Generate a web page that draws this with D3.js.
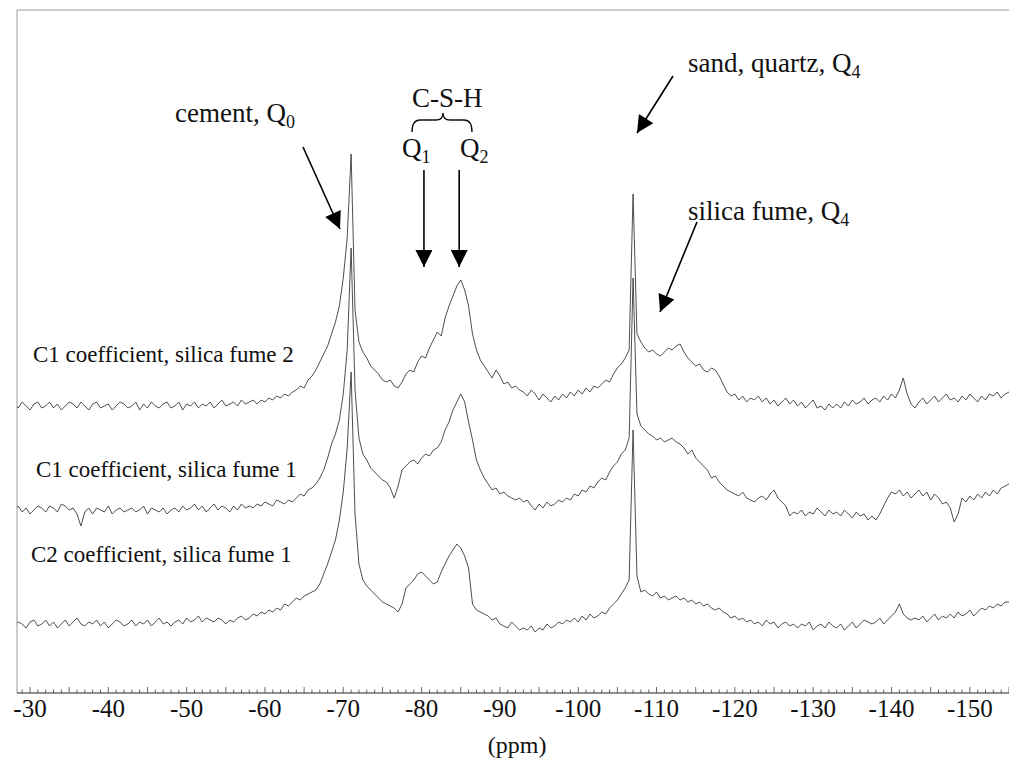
<!DOCTYPE html>
<html>
<head>
<meta charset="utf-8">
<script src="https://cdn.jsdelivr.net/npm/d3@7"></script>
<style>
  body { margin: 0; background: #fff; }
  svg { display: block; font-family: "Liberation Serif", "DejaVu Serif", serif; }
</style>
</head>
<body>
<div id="chart"></div>
<script>
// 29Si NMR spectra, sampled every 0.5 ppm from -28 to -155 ppm
const ppmStart = -28, ppmStep = -0.5, nPoints = 255;

const seriesNames = [
    'C1 coefficient, silica fume 2',
    'C1 coefficient, silica fume 1',
    'C2 coefficient, silica fume 1'
];

// vertical stacking offset of each trace (intensity units)
const offsets = [143, 91, 34];

const c1sf2 = [
    1, -1, 2, 0, -2, 1, 2, -1, 0, 2,
    -1, 1, -2, 0, 2, 1, -1, 2, 0, -2,
    1, 2, -1, 0, 1, -2, 0, 2, 1, -1,
    0, 2, -2, 1, -1, 2, 0, -1, 1, 2,
    -1, 0, 2, -2, 1, 0, 2, -1, 1, 0,
    2, -1, 1, 3, 0, 1, 2, 0, 3, 1,
    2, 3, 1, 3, 2, 4, 3, 5, 4, 6,
    5, 7, 8, 10, 9, 13, 15, 18, 22, 26,
    30, 36, 42, 50, 64, 84, 126, 48, 32, 27,
    24, 20, 18, 16, 13, 12, 13, 10, 9, 12,
    16, 18, 17, 22, 25, 24, 29, 33, 37, 35,
    44, 50, 55, 60, 63, 58, 50, 36, 28, 23,
    20, 17, 14, 18, 15, 11, 12, 9, 10, 8,
    7, 5, 8, 6, 3, 6, 4, 2, 5, 3,
    6, 4, 7, 5, 8, 6, 9, 7, 10, 9,
    11, 13, 12, 16, 19, 21, 24, 28, 106, 36,
    32, 29, 27, 28, 26, 25, 27, 29, 28, 30,
    31, 27, 24, 22, 20, 21, 18, 17, 19, 18,
    15, 11, 7, 5, 6, 3, 5, 2, 4, 3,
    5, 2, 4, 1, 3, 0, 2, 4, 1, 3,
    0, 2, -1, 1, 3, -1, 0, -2, 1, -1,
    1, -1, 2, 0, 3, 1, 2, 4, 1, 3,
    4, 2, 5, 3, 6, 4, 8, 14, 6, 1,
    -1, 2, 4, 1, 3, 5, 2, 4, 6, 3,
    4, 2, 5, 3, 6, 4, 2, 5, 3, 6,
    5, 7, 4, 6, 7
];

const c1sf1 = [
    0, 2, -1, 1, -2, 0, 2, 1, -1, 2,
    1, -1, 3, 2, 0, 1, -2, -8, -1, 1,
    -2, 1, 0, -1, 2, -2, 0, 1, -1, 0,
    1, -1, 0, 2, -2, 1, 0, -1, 1, -2,
    0, 1, -1, 2, 0, 1, 3, 0, 2, -1,
    1, 3, 0, 2, 1, -1, 2, 0, 3, 1,
    2, 1, 3, 2, 4, 3, 2, 5, 4, 3,
    5, 4, 6, 8, 7, 10, 11, 13, 16, 20,
    26, 33, 38, 45, 58, 80, 131, 60, 36, 28,
    25, 21, 19, 17, 15, 14, 11, 6, 12, 20,
    22, 24, 25, 23, 26, 28, 27, 30, 31, 34,
    40, 44, 50, 54, 58, 54, 44, 35, 25, 20,
    16, 13, 10, 11, 8, 9, 7, 6, 5, 6,
    4, 5, 2, 0, 3, 1, 4, 2, 3, 5,
    4, 6, 5, 8, 7, 10, 9, 12, 11, 14,
    16, 15, 19, 22, 24, 28, 30, 36, 116, 48,
    42, 40, 38, 37, 35, 36, 34, 35, 36, 34,
    33, 31, 28, 30, 26, 24, 22, 20, 16, 17,
    14, 12, 10, 9, 8, 7, 9, 6, 5, 4,
    6, 7, 5, 8, 10, 6, 4, 2, -3, -1,
    -2, 0, -3, -1, -2, 1, -1, -3, 0, -2,
    -1, -3, 0, -2, -4, -1, -3, -2, -5, -3,
    -5, -2, 2, 6, 9, 8, 10, 7, 9, 6,
    8, 10, 7, 9, 5, 8, 6, 3, 4, 1,
    -6, -2, 6, 4, 7, 5, 8, 6, 9, 7,
    10, 8, 11, 12, 13
];

const c2sf1 = [
    -1, 1, 0, -2, 1, 2, -1, 0, 2, -1,
    1, -2, 0, 2, -1, 1, 3, 0, -1, 1,
    0, 2, -1, 1, -2, 0, 2, 1, -1, 0,
    2, -1, 1, 0, 2, -1, 1, 3, 0, 1,
    -1, 1, 2, 0, 3, 1, 2, 4, 1, 3,
    2, 1, 3, 2, 0, 2, 1, 3, 4, 2,
    3, 5, 4, 6, 5, 7, 6, 8, 7, 10,
    9, 11, 13, 12, 14, 15, 16, 17, 20, 25,
    30, 36, 42, 52, 66, 88, 126, 55, 30, 22,
    19, 17, 15, 13, 11, 10, 9, 8, 6, 10,
    18, 20, 22, 25, 26, 24, 22, 20, 21, 26,
    30, 34, 37, 40, 38, 34, 28, 10, 7, 6,
    5, 4, 2, 3, 0, -1, -2, 1, -1, -3,
    -2, -3, -1, -4, -2, -3, 0, -2, -1, 1,
    0, 2, 1, 3, 1, 4, 2, 5, 3, 4,
    6, 5, 8, 10, 12, 15, 18, 22, 97, 24,
    16, 17, 15, 14, 16, 13, 14, 12, 13, 14,
    12, 13, 11, 12, 10, 11, 9, 10, 8, 7,
    8, 6, 5, 3, 4, 2, 3, 1, 2, 0,
    1, -1, 2, 0, 1, -2, 0, 1, -1, 0,
    -2, 0, -1, 1, -3, -1, 0, -2, 1, -1,
    -2, 0, -3, -1, 1, -2, 0, 2, 1, 0,
    1, 3, 0, 2, 4, 6, 10, 5, 3, 2,
    3, 2, 4, 1, 3, 5, 2, 4, 3, 5,
    3, 6, 4, 5, 7, 4, 6, 8, 7, 9,
    8, 10, 9, 11, 11
];

const tickLabels = [-30, -40, -50, -60, -70, -80, -90, -100, -110, -120, -130, -140, -150];

const series = [c1sf2, c1sf1, c2sf1];
const ppm = d3.range(nPoints).map(i => ppmStart + i * ppmStep);

const width = 1009, height = 760;
const axisY = 693, frameTop = 10, frameLeft = 17;

const svg = d3.select('#chart').append('svg')
    .attr('width', width)
    .attr('height', height);

const x = d3.scaleLinear()
    .domain([-28.34, -155])
    .range([frameLeft, width]);

const y = d3.scaleLinear()
    .domain([0, 341])
    .range([axisY - 1, axisY - 683]);

// frame (left and top)
svg.append('path')
    .attr('d', `M${frameLeft},${axisY} V${frameTop} H${width}`)
    .attr('fill', 'none')
    .attr('stroke', '#9a9a9a')
    .attr('stroke-width', 1);

svg.append('clipPath').attr('id', 'plotClip')
    .append('rect')
    .attr('x', frameLeft).attr('y', frameTop)
    .attr('width', width - frameLeft).attr('height', axisY - frameTop);

const line = d3.line()
    .x((d, i) => x(ppm[i]))
    .y(d => y(d));

svg.append('g')
    .attr('clip-path', 'url(#plotClip)')
    .selectAll('path.trace')
    .data(series)
    .join('path')
    .attr('class', 'trace')
    .attr('d', (s, k) => line(s.map(v => v + offsets[k])))
    .attr('fill', 'none')
    .attr('stroke', '#3a3a3a')
    .attr('stroke-width', 0.9)
    .attr('stroke-linejoin', 'round');

// trace labels
const labelPos = [[33, 362], [36, 477], [31, 562]];
svg.selectAll('text.series')
    .data(seriesNames)
    .join('text')
    .attr('class', 'series')
    .attr('x', (d, i) => labelPos[i][0])
    .attr('y', (d, i) => labelPos[i][1])
    .attr('font-size', 23)
    .attr('fill', '#111')
    .text(d => d);

// x axis, ticks pointing up
const axis = svg.append('g').attr('transform', `translate(0,${axisY})`);
axis.append('line')
    .attr('x1', frameLeft).attr('x2', width)
    .attr('stroke', '#222').attr('stroke-width', 1);

const minor = d3.range(-29, -155.5, -1);
axis.selectAll('line.minor')
    .data(minor)
    .join('line')
    .attr('class', 'minor')
    .attr('x1', d => x(d)).attr('x2', d => x(d))
    .attr('y1', 0)
    .attr('y2', d => d % 5 === 0 ? -6 : -3.5)
    .attr('stroke', '#444')
    .attr('stroke-width', 0.8);

axis.selectAll('text.tick')
    .data(tickLabels)
    .join('text')
    .attr('class', 'tick')
    .attr('x', d => x(d))
    .attr('y', 24)
    .attr('text-anchor', 'middle')
    .attr('font-size', 25)
    .attr('fill', '#111')
    .text(d => d);

svg.append('text')
    .attr('x', x(-92.2))
    .attr('y', 753)
    .attr('text-anchor', 'middle')
    .attr('font-size', 24)
    .attr('fill', '#111')
    .text('(ppm)');

// annotations
const defs = svg.append('defs');
defs.append('marker')
    .attr('id', 'head')
    .attr('viewBox', '0 0 10 10')
    .attr('refX', 10).attr('refY', 5)
    .attr('markerWidth', 19).attr('markerHeight', 17)
    .attr('markerUnits', 'userSpaceOnUse')
    .attr('orient', 'auto')
    .append('path')
    .attr('d', 'M0,0 L10,5 L0,10 Z')
    .attr('fill', '#000');

const arrows = [
    [303, 147, 340, 229],
    [x(-80.3), 170, x(-80.3), 267],
    [x(-84.8), 170, x(-84.8), 267],
    [673, 76, 637, 133],
    [697, 222, 660, 312]
];
svg.selectAll('line.arrow')
    .data(arrows)
    .join('line')
    .attr('class', 'arrow')
    .attr('x1', d => d[0]).attr('y1', d => d[1])
    .attr('x2', d => d[2]).attr('y2', d => d[3])
    .attr('stroke', '#000')
    .attr('stroke-width', 1.6)
    .attr('marker-end', 'url(#head)');

function label(xp, yp, main, sub) {
    const t = svg.append('text')
        .attr('x', xp).attr('y', yp)
        .attr('font-size', 27)
        .attr('fill', '#111');
    t.append('tspan').text(main);
    if (sub !== undefined) {
        t.append('tspan')
            .attr('font-size', 18)
            .attr('dy', 6)
            .text(sub);
    }
}

label(175, 122, 'cement, Q', '0');
label(412, 107, 'C-S-H');
label(402, 157, 'Q', '1');
label(460, 157, 'Q', '2');
label(688, 72, 'sand, quartz, Q', '4');
label(688, 220, 'silica fume, Q', '4');

// brace under C-S-H
svg.append('path')
    .attr('d', 'M412,132 Q412,120 420,120 L436,120 Q443,120 443,113 Q443,120 450,120 L464,120 Q472,120 472,132')
    .attr('fill', 'none')
    .attr('stroke', '#111')
    .attr('stroke-width', 1.4);
</script>
</body>
</html>
